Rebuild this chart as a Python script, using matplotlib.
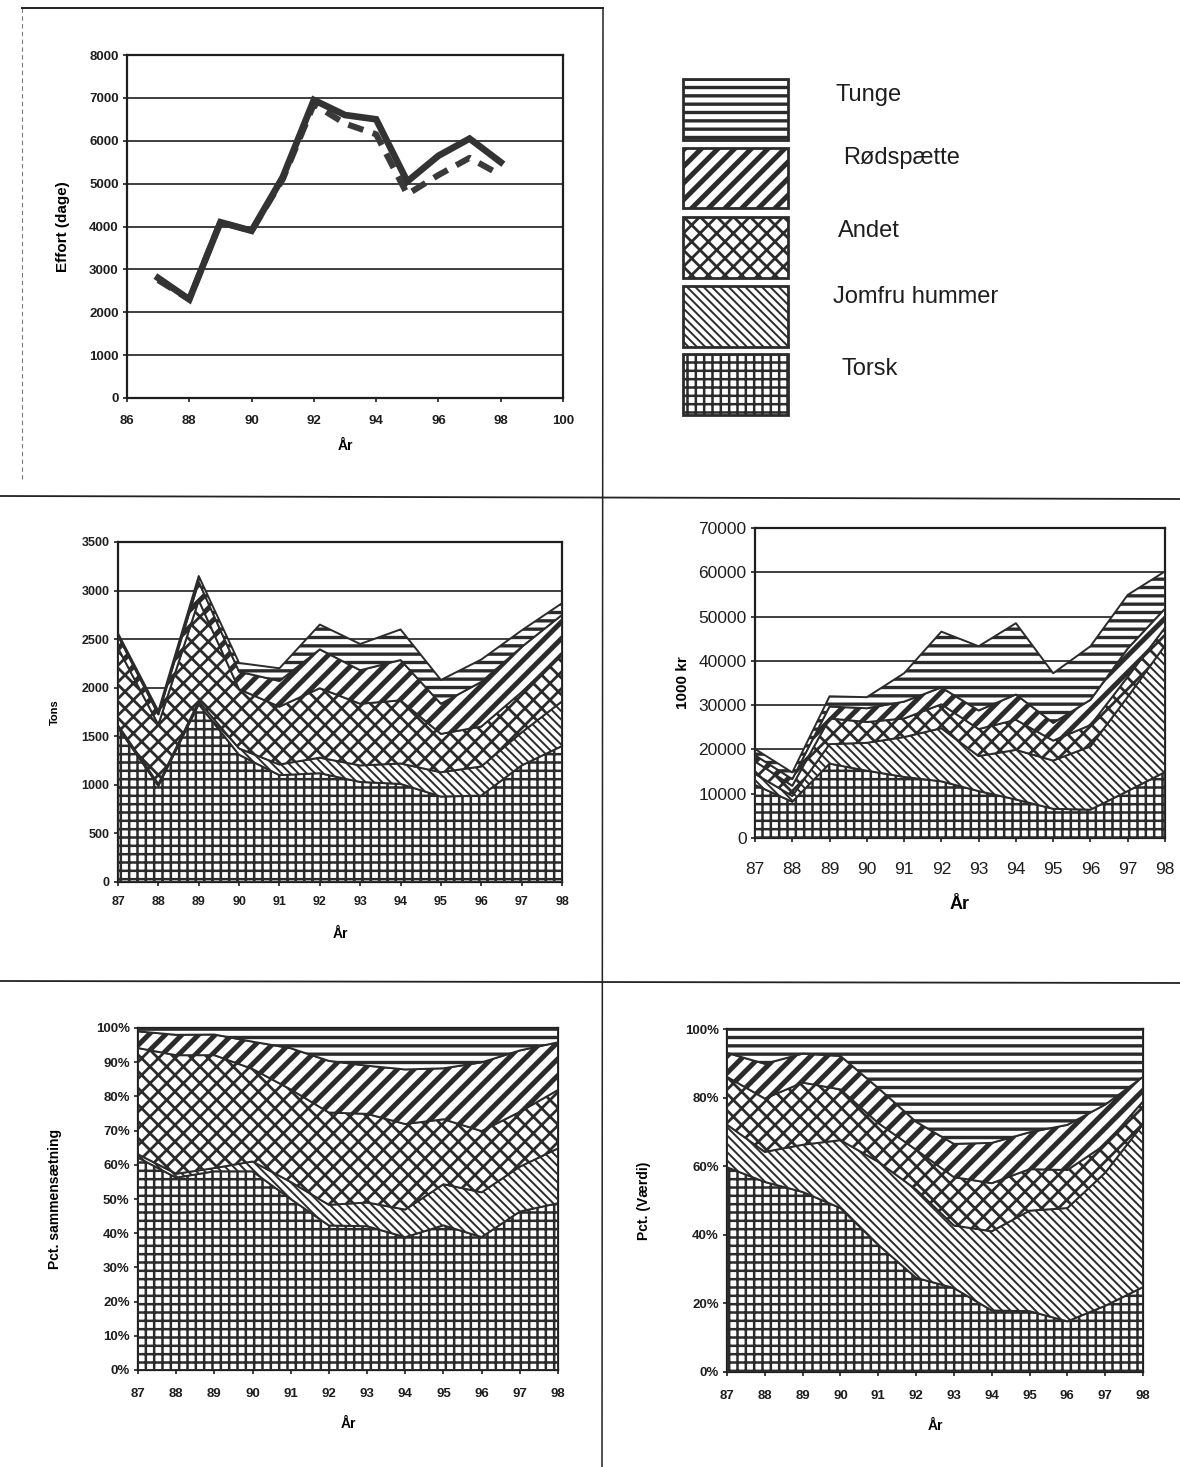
import matplotlib
matplotlib.use("Agg")
import matplotlib.pyplot as plt
import numpy as np
from matplotlib.patches import Rectangle
from matplotlib.lines import Line2D
from matplotlib.ticker import FuncFormatter

plt.rcParams['font.family'] = ['Liberation Sans', 'DejaVu Sans']
plt.rcParams['hatch.color'] = '#2b2b2b'

# ---------------- data ----------------
years = [87, 88, 89, 90, 91, 92, 93, 94, 95, 96, 97, 98]
year_labels = ['87', '88', '89', '90', '91', '92', '93', '94', '95', '96', '97', '98']

effort_solid = [2800, 2300, 4100, 3900, 5150, 6950, 6600, 6500, 5050, 5650, 6050, 5500]
effort_dashed = [2750, 2300, 4100, 3900, 5100, 6850, 6400, 6150, 4750, 5200, 5600, 5200]

species = ['Torsk', 'Jomfru hummer', 'Andet', 'Rødspætte', 'Tunge']

tons_torsk = [1590, 990, 1830, 1310, 1100, 1120, 1030, 1010, 880, 890, 1200, 1400]
tons_jomfru = [25, 20, 30, 65, 110, 160, 170, 210, 250, 300, 340, 460]
tons_andet = [795, 610, 1040, 610, 595, 715, 635, 650, 395, 410, 415, 490]
tons_rodsp = [125, 105, 190, 180, 265, 400, 345, 415, 310, 460, 465, 400]
tons_tunge = [25, 35, 60, 90, 130, 255, 270, 315, 245, 230, 170, 120]

val_torsk = [12000, 8200, 16800, 15200, 13800, 12800, 10600, 8700, 6600, 6400, 10600, 14900]
val_jomfru = [2500, 1300, 4400, 6300, 9000, 12000, 7900, 11200, 10900, 14300, 21300, 28600]
val_andet = [2800, 2300, 5800, 4700, 4200, 5400, 6100, 6800, 4500, 4800, 4500, 4000]
val_rodsp = [1400, 1500, 2700, 3100, 3800, 3800, 4200, 5700, 4000, 5700, 6400, 4300]
val_tunge = [1400, 1500, 2300, 2500, 6400, 12600, 14500, 16100, 11200, 12100, 12100, 8400]

# ---------------- styles ----------------
DARK = '#2b2b2b'
hatches = {'Torsk': ('++', 1.8), 'Jomfru hummer': ('\\\\\\\\', 1.4), 'Andet': ('xx', 2.0),
           'Rødspætte': ('//', 3.6), 'Tunge': ('--', 2.4)}

W, H = 1180, 1467
fig = plt.figure(figsize=(W / 100, H / 100), dpi=100)
fig.patch.set_facecolor('white')


def px_axes(x0, y0, x1, y1):
    return fig.add_axes([x0 / W, 1 - y1 / H, (x1 - x0) / W, (y1 - y0) / H])


def style_axes(ax, fs, bold=True, xpad=3):
    for s in ax.spines.values():
        s.set_linewidth(1.6)
        s.set_color('#1e1e1e')
    ax.tick_params(axis='both', labelsize=fs, length=3, width=1.2, color='#1e1e1e',
                   labelcolor='#1e1e1e', pad=3)
    ax.tick_params(axis='x', pad=xpad)
    for lab in ax.get_xticklabels() + ax.get_yticklabels():
        lab.set_fontweight('bold' if bold else 'normal')


def hatched_fill(ax, x, lo, hi, name, lw_edge=1.4):
    h, hlw = hatches[name]
    with plt.rc_context({'hatch.linewidth': hlw}):
        coll = ax.fill_between(x, lo, hi, facecolor='white', edgecolor=DARK,
                               hatch=h, linewidth=lw_edge, zorder=3)
        if hasattr(coll, 'set_hatch_linewidth'):
            coll.set_hatch_linewidth(hlw)
    return coll


def stacked(ax, layers, normalize=False):
    arr = np.array(layers, dtype=float)
    if normalize:
        arr = arr / arr.sum(axis=0) * 100.0
    base = np.zeros(arr.shape[1])
    for name, row in zip(species, arr):
        hatched_fill(ax, years, base, base + row, name)
        base = base + row


# ---------------- top-left: effort ----------------
ax1 = px_axes(127, 55, 563, 398)
ax1.plot(years, effort_dashed, color='#3a3a3a', lw=4.4, linestyle=(0, (2.6, 1.6)), zorder=3,
         solid_capstyle='butt')
ax1.plot(years, effort_solid, color='#333333', lw=4.8, zorder=4, solid_joinstyle='miter')
ax1.set_xlim(86, 100)
ax1.set_ylim(0, 8000)
ax1.set_xticks(range(86, 101, 2))
ax1.set_yticks(range(0, 8001, 1000))
ax1.yaxis.grid(True, color='#1e1e1e', lw=1.2)
ax1.set_axisbelow(True)
style_axes(ax1, 9.5, xpad=9)
ax1.set_ylabel('Effort (dage)', fontsize=11, fontweight='bold', labelpad=14)
ax1.set_xlabel('År', fontsize=10, fontweight='bold', labelpad=9)

# ---------------- legend (top-right) ----------------
legend_boxes = [(79, 140), (148, 208), (217, 278), (286, 347), (354, 415)]
legend_text_pos = [(836, 95), (843, 158), (838, 231), (833, 297), (842, 369)]
for name, (yb0, yb1), (tx, ty) in zip(species[::-1], legend_boxes, legend_text_pos):
    h, hlw = hatches[name]
    with plt.rc_context({'hatch.linewidth': hlw}):
        r = Rectangle((683 / W, 1 - yb1 / H), (788 - 683) / W, (yb1 - yb0) / H,
                      transform=fig.transFigure, facecolor='white', edgecolor=DARK,
                      hatch=h, linewidth=2.0)
        if hasattr(r, 'set_hatch_linewidth'):
            r.set_hatch_linewidth(hlw)
        fig.add_artist(r)
    fig.text(tx / W, 1 - ty / H, name, fontsize=17, color='#1e1e1e', va='center', ha='left')

# ---------------- middle-left: tons ----------------
ax2 = px_axes(118, 542, 562, 882)
stacked(ax2, [tons_torsk, tons_jomfru, tons_andet, tons_rodsp, tons_tunge])
ax2.set_xlim(87, 98)
ax2.set_ylim(0, 3500)
ax2.set_yticks(range(0, 3501, 500))
ax2.set_xticks(years)
ax2.set_xticklabels(year_labels)
ax2.yaxis.grid(True, color='#1e1e1e', lw=1.2)
ax2.set_axisbelow(True)
style_axes(ax2, 9, xpad=7)
ax2.set_ylabel('Tons', fontsize=8, fontweight='bold', labelpad=16)
ax2.set_xlabel('År', fontsize=10, fontweight='bold', labelpad=14)

# ---------------- middle-right: value ----------------
ax3 = px_axes(755, 528, 1165, 838)
stacked(ax3, [val_torsk, val_jomfru, val_andet, val_rodsp, val_tunge])
ax3.set_xlim(87, 98)
ax3.set_ylim(0, 70000)
ax3.set_yticks(range(0, 70001, 10000))
ax3.set_xticks(years)
ax3.set_xticklabels(year_labels)
ax3.yaxis.grid(True, color='#1e1e1e', lw=1.2)
ax3.set_axisbelow(True)
style_axes(ax3, 12.5, bold=False, xpad=14)
ax3.set_ylabel('1000 kr', fontsize=11, fontweight='bold', labelpad=6)
ax3.set_xlabel('År', fontsize=13, fontweight='bold', labelpad=14)

# ---------------- bottom-left: pct tons ----------------
pct_fmt = FuncFormatter(lambda v, p: f'{int(round(v))}%')
ax4 = px_axes(138, 1028, 558, 1370)
stacked(ax4, [tons_torsk, tons_jomfru, tons_andet, tons_rodsp, tons_tunge], normalize=True)
ax4.set_xlim(87, 98)
ax4.set_ylim(0, 100)
ax4.set_yticks(range(0, 101, 10))
ax4.yaxis.set_major_formatter(pct_fmt)
ax4.set_xticks(years)
ax4.set_xticklabels(year_labels)
style_axes(ax4, 9.5, xpad=10)
ax4.set_ylabel('Pct. sammensætning', fontsize=10, fontweight='bold', labelpad=24)
ax4.set_xlabel('År', fontsize=10, fontweight='bold', labelpad=12)

# ---------------- bottom-right: pct value ----------------
ax5 = px_axes(727, 1029, 1143, 1372)
stacked(ax5, [val_torsk, val_jomfru, val_andet, val_rodsp, val_tunge], normalize=True)
ax5.set_xlim(87, 98)
ax5.set_ylim(0, 100)
ax5.set_yticks(range(0, 101, 20))
ax5.yaxis.set_major_formatter(pct_fmt)
ax5.set_xticks(years)
ax5.set_xticklabels(year_labels)
style_axes(ax5, 9.5, xpad=10)
ax5.set_ylabel('Pct. (Værdi)', fontsize=10, fontweight='bold', labelpad=24)
ax5.set_xlabel('År', fontsize=10, fontweight='bold', labelpad=12)

# ---------------- page separators ----------------
def fline(x0, y0, x1, y1, **kw):
    fig.add_artist(Line2D([x0 / W, x1 / W], [1 - y0 / H, 1 - y1 / H],
                          transform=fig.transFigure, color='#222222', **kw))

fline(22, 8, 603, 8, lw=1.4)
fline(22, 8, 22, 480, lw=0.8, linestyle=(0, (4, 3)), alpha=0.6)
fline(603, 8, 602, 1467, lw=1.1)
fline(0, 496, 1180, 499, lw=1.3)
fline(0, 981, 1180, 983, lw=1.3)

fig.savefig('out.png', dpi=100, facecolor='white')
